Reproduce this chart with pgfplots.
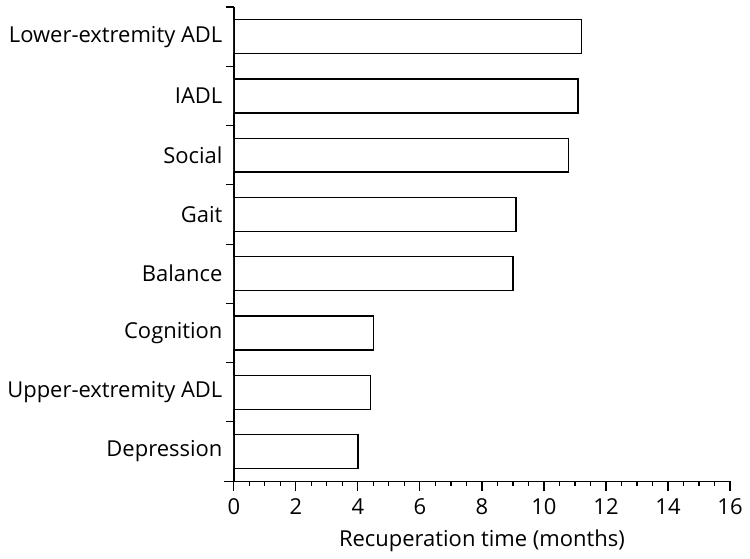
\documentclass[border=0pt]{standalone}
\usepackage{fontspec}
\setmainfont{Open Sans}
\usepackage{pgfplots}
\pgfplotsset{compat=1.18}
\begin{document}
\fontsize{22}{26}\selectfont
\begin{tikzpicture}
\begin{axis}[
  name=ax,
  scale only axis, width=497pt, height=475pt,
  xbar, bar width=34pt, bar shift=0pt,
  xmin=0, xmax=16, ymin=0.5, ymax=8.5,
  axis x line=bottom, axis y line=left,
  axis line style={-, line width=1.3pt},
  x axis line style={shorten <=-10pt},
  xtick={0,2,...,16}, minor xtick={0,0.5,...,16},
  ytick={1,...,8},
  yticklabels={Depression, Upper-extremity ADL, Cognition, Balance, Gait, Social, IADL, Lower-extremity ADL},
  minor ytick={0.5,1.5,...,8.5},
  tick align=outside,
  major tick length=10pt, minor tick length=5pt,
  tick style={black, line width=1.1pt},
  minor y tick style={/pgfplots/minor tick length=8pt},
  major y tick style={draw=none},
  yticklabel style={xshift=6pt},
  /pgf/number format/assume math mode=true,
  xlabel={Recuperation time (months)},
]
\addplot[draw=black, fill=white, line width=1.3pt] coordinates {
  (4.0,1) (4.4,2) (4.5,3) (9.0,4) (9.1,5) (10.8,6) (11.1,7) (11.2,8)
};
\end{axis}
\path ([shift={(-233pt,-76pt)}]ax.south west) rectangle ([shift={(517pt,7pt)}]ax.north west);
\end{tikzpicture}
\end{document}
